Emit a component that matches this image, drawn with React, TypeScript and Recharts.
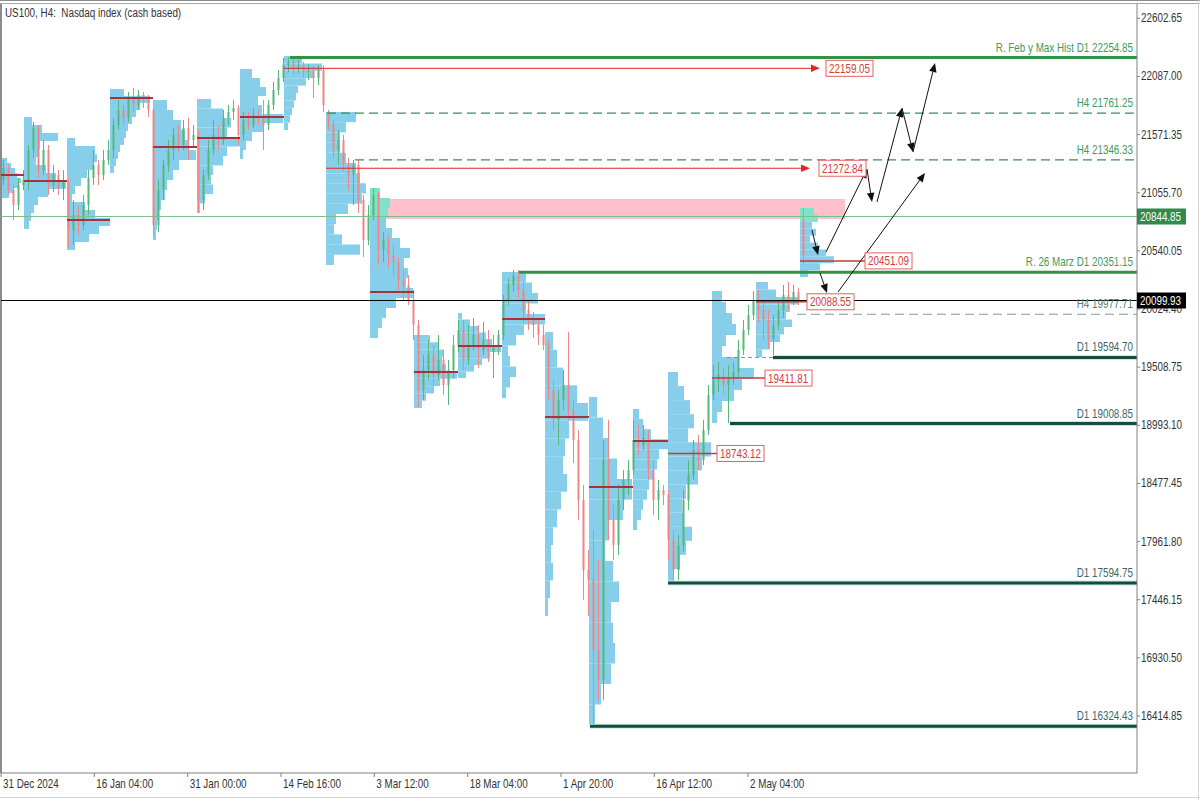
import React from "react";
import { ComposedChart, Bar, XAxis, YAxis, ReferenceArea, ReferenceLine, ReferenceDot } from "recharts";

const FONT = "'Liberation Sans', Arial, sans-serif";
const SQUEEZE = 0.82;

// H4 candles, one slot each: [open, high, low, close]
const candles: number[][] = [
  [21169, 21346, 21124, 21275], [21275, 21302, 21036, 21080], [21080, 21124, 20814, 20947], [20947, 21186, 20903, 21124],
  [21124, 21257, 21080, 21169], [21169, 21479, 21080, 21435], [21435, 21683, 21364, 21630], [21630, 21656, 21186, 21257],
  [21257, 21523, 21213, 21435], [21435, 21479, 21036, 21124], [21124, 21302, 21062, 21213], [21213, 21257, 21036, 21098],
  [21098, 21257, 20991, 21151], [21151, 21186, 20565, 20725], [20725, 20991, 20592, 20858], [20858, 20947, 20681, 20770],
  [20770, 21036, 20725, 20947], [20947, 21257, 20858, 21186], [21186, 21435, 21124, 21302], [21302, 21346, 21124, 21213],
  [21213, 21435, 21169, 21346], [21346, 21523, 21302, 21435], [21435, 21718, 21364, 21656], [21656, 21878, 21612, 21789],
  [21789, 21834, 21656, 21718], [21718, 21949, 21683, 21896], [21896, 21985, 21772, 21834], [21834, 21967, 21789, 21922],
  [21922, 21949, 21807, 21878], [21878, 21922, 21727, 21789], [21789, 21807, 20663, 20770], [20770, 21169, 20707, 21080],
  [21080, 21346, 20991, 21302], [21302, 21523, 21240, 21435], [21435, 21630, 21346, 21568], [21568, 21656, 21417, 21479],
  [21479, 21701, 21435, 21630], [21630, 21718, 21346, 21523], [21523, 21656, 21452, 21568], [21568, 21612, 20876, 20991],
  [20991, 21257, 20903, 21213], [21213, 21523, 21169, 21435], [21435, 21701, 21390, 21568], [21568, 21656, 21435, 21523],
  [21523, 21789, 21479, 21718], [21718, 21834, 21656, 21772], [21772, 21878, 21701, 21807], [21807, 21834, 21479, 21568],
  [21568, 21772, 21523, 21701], [21701, 21772, 21612, 21656], [21656, 21807, 21630, 21745], [21745, 21789, 21656, 21718],
  [21718, 21878, 21435, 21656], [21656, 21878, 21612, 21834], [21834, 22038, 21789, 21967], [21967, 22144, 21922, 22073],
  [22073, 22251, 22038, 22188], [22188, 22259, 22126, 22215], [22215, 22251, 22100, 22162], [22162, 22233, 22118, 22188],
  [22188, 22215, 22073, 22126], [22126, 22197, 22055, 22144], [22144, 22180, 21896, 22073], [22073, 22188, 22011, 22144],
  [22144, 22188, 21772, 21834], [21772, 21789, 21612, 21656], [21656, 21701, 21364, 21435], [21435, 21612, 21302, 21523],
  [21523, 21568, 21240, 21302], [21302, 21364, 21080, 21213], [21213, 21346, 20947, 21302], [21302, 21346, 20876, 20991],
  [20991, 21036, 20486, 20636], [20636, 20947, 20592, 20858], [20858, 21098, 20814, 21036], [21036, 21062, 20415, 20548],
  [20548, 20707, 20441, 20636], [20636, 20681, 20388, 20503], [20503, 20592, 20326, 20441], [20441, 20477, 20193, 20282],
  [20282, 20370, 20104, 20237], [20237, 20326, 20060, 20104], [20104, 20193, 19750, 19883], [19883, 19927, 19155, 19306],
  [19306, 19616, 19217, 19483], [19483, 19750, 19395, 19616], [19616, 19705, 19350, 19439], [19439, 19794, 19395, 19572],
  [19572, 19661, 19262, 19350], [19350, 19572, 19173, 19483], [19483, 19794, 19412, 19705], [19705, 19927, 19643, 19838],
  [19838, 19927, 19483, 19572], [19572, 19883, 19528, 19705], [19705, 19945, 19661, 19794], [19794, 19883, 19501, 19661],
  [19661, 19909, 19616, 19750], [19750, 19838, 19554, 19643], [19643, 19794, 19412, 19705], [19705, 19838, 19616, 19794],
  [19794, 20149, 19750, 20104], [20104, 20299, 20060, 20237], [20237, 20370, 20175, 20317], [20317, 20370, 20122, 20193],
  [20193, 20264, 19909, 20016], [20016, 20104, 19838, 19945], [19945, 19998, 19767, 19883], [19883, 19945, 19705, 19794],
  [19794, 19883, 19661, 19705], [19705, 19750, 19217, 19306], [19306, 19395, 18951, 19040], [19040, 19306, 18818, 19217],
  [19217, 19483, 19129, 19350], [19350, 19820, 19040, 19129], [19129, 19217, 18659, 18863], [18863, 18951, 18153, 18330],
  [18330, 18464, 17444, 17710], [17710, 17887, 17302, 17621], [17621, 18064, 16326, 17000], [17000, 17798, 16557, 16734],
  [16734, 18863, 16557, 18685], [18685, 19040, 17976, 18153], [18153, 18286, 17798, 17931], [17931, 18464, 17843, 18330],
  [18330, 18597, 18242, 18508], [18508, 18685, 18375, 18597], [18597, 19040, 18552, 18863], [18863, 18996, 18730, 18818],
  [18818, 18996, 18774, 18880], [18880, 18951, 18508, 18597], [18597, 18685, 18197, 18330], [18330, 18508, 18153, 18419],
  [18419, 18464, 18286, 18375], [18375, 18419, 17798, 17976], [17976, 18064, 17594, 17710], [17710, 18020, 17621, 17931],
  [17931, 18419, 17869, 18330], [18330, 18685, 18242, 18552], [18552, 18863, 18508, 18774], [18774, 18907, 18597, 18685],
  [18685, 19040, 18641, 18951], [18951, 19350, 18907, 19262], [19262, 19528, 19217, 19395], [19395, 19554, 19288, 19439],
  [19439, 19501, 19262, 19350], [19350, 19528, 19013, 19412], [19412, 19554, 19350, 19466], [19466, 19750, 19412, 19661],
  [19661, 19927, 19616, 19838], [19838, 20060, 19794, 19971], [19971, 20184, 19927, 20104], [20104, 20193, 19909, 20016],
  [20016, 20104, 19750, 19927], [19927, 20016, 19679, 19767], [19767, 19971, 19608, 19883], [19883, 20104, 19838, 20016],
  [20016, 20237, 19945, 20149], [20149, 20264, 20016, 20104], [20104, 20237, 20060, 20175], [20175, 20211, 20060, 20104],
  [20814, 20920, 20415, 20503],
];

const xTicks = [-0.5, 18.16, 36.84, 55.5, 74.16, 92.84, 111.5, 130.16, 148.9];
const xTickLabels = ["31 Dec 2024", "16 Jan 04:00", "31 Jan 00:00", "14 Feb 16:00", "3 Mar 12:00", "18 Mar 04:00", "1 Apr 20:00", "16 Apr 12:00", "2 May 04:00"];
const yTicks = [22602.65, 22087.0, 21571.35, 21055.7, 20540.05, 20024.4, 19508.75, 18993.1, 18477.45, 17961.8, 17446.15, 16930.5, 16414.85];

// weekly volume profiles
const profileStart = [-0.5, 4.1, 12.7, 21.3, 29.9, 38.7, 47.3, 56.1, 64.5, 73.3, 82.1, 90.9, 99.7, 108.3, 117.1, 125.9, 132.9, 141.7, 150.5, 159.3];
const profileTop = [21364, 21727, 21541, 21976, 21878, 21887, 22153, 22268, 21772, 21098, 19794, 19989, 20353, 19820, 19244, 19138, 19466, 20184, 20264, 20920];
const profileBottom = [21009, 20734, 20548, 21231, 20636, 20876, 21355, 21612, 20415, 19767, 19146, 19412, 19235, 17302, 16335, 18064, 17594, 19013, 19599, 20308];
const profileRows = [
  [1.2, 2, 2.8, 3.2, 4, 3.6, 2.4, 1.6],
  [1.6, 3.6, 6.8, 3.2, 2.8, 2.4, 4.4, 6.4, 8.4, 4.8, 2.8, 2, 1.4, 1],
  [1.6, 5.6, 6, 5.2, 4, 2.8, 1.6, 1, 3.6, 5.6, 8.6, 6.4, 4.4, 1.6],
  [2.8, 8, 6, 5.2, 4.4, 3.6, 3.2, 2.8, 2, 1.6, 1.2, 0.8],
  [2.8, 4, 5.6, 6.4, 7.2, 8.6, 5.2, 4, 2.8, 2.4, 1.6, 1.2, 0.8, 0.6],
  [2.8, 5.2, 6.8, 6, 8.6, 6, 5.2, 3.2, 2.8, 3.2, 1.6, 0.6],
  [2.4, 4, 5.2, 3.6, 4.4, 8.6, 4.8, 2.4, 1.2, 0.6],
  [3.6, 7.6, 6, 4.4, 2.8, 2.4, 2, 1.6, 1.2, 0.8],
  [6, 4, 2.8, 2.8, 4, 6, 6.8, 8, 7.2, 4.4, 2, 1.6, 3.2, 6.8, 1.6],
  [2, 4, 3.6, 3.2, 4.4, 6, 8, 6.8, 7.6, 7.2, 8.6, 5.2, 3.2, 2.4, 1.6],
  [3.2, 4.8, 6, 5.6, 6.4, 8.6, 5.2, 4, 2.4, 1.6],
  [0.8, 2.4, 4, 5.6, 6.8, 8.6, 6.4, 4.8, 3.2, 1.6],
  [4.8, 6, 7.2, 4.8, 8.6, 4.4, 2.8, 1.2, 1.6, 2.8, 1.6, 0.8],
  [1.6, 2.4, 3.6, 6.4, 8.6, 4.8, 4, 3.6, 4.4, 3.2, 2.4, 1.6, 1.2, 1.6, 1, 0.6],
  [1.6, 2.8, 4, 5.6, 8.6, 6.8, 4, 3.2, 4.8, 6, 4.4, 4.8, 5.2, 4.4, 2.4, 1.2],
  [1.2, 2, 3.6, 7, 5.2, 4.8, 4, 3.2, 2.8, 2, 1.6, 0.8],
  [2, 3.2, 4.4, 5.2, 4, 8.6, 6.8, 6, 3.6, 2.8, 3.2, 4.8, 3.6, 2.4, 1.2],
  [2, 2.8, 4, 4.8, 2.8, 2, 5.2, 8.4, 6, 4.4, 2, 1],
  [2.4, 4, 8.4, 6.8, 6, 7.2, 5.6, 4.8, 2.8, 1.2],
  [2.8, 3.6, 2.4, 3.2, 2, 3.6, 5.2, 6.8, 4, 1.6],
];
const zoneProfiles = [9, 19];
const pocPrice = [21213, 21160, 20814, 21896, 21461, 21541, 21727, 22159.05, 21272.84, 20175, 19466, 19696, 19936, 19066, 18445, 18854, 18743.12, 19411.81, 20088.55, 20451.09];
const pocEnd = [4.1, 12.7, 21.3, 29.9, 38.7, 47.3, 56.1, 163.3, 161.3, 82.1, 90.9, 99.7, 108.3, 117.1, 125.9, 132.9, 142.7, 152.3, 160.7, 172.3];
const pocBoxAt: (number | null)[] = [null, null, null, null, null, null, null, 164.5, 163.1, null, null, null, null, null, null, null, 142.7, 152.3, 160.7, 172.3];

// supply zone
const zoneLow = 20822;
const zoneHigh = 20999;
const zoneFrom = 75.3;
const zoneTo = 168.3;

// horizontal levels
const levelPrice = [22254.85, 21761.25, 21346.33, 20844.85, 20351.15, 19977.71, 19594.7, 19008.85, 17594.75, 16324.43];
const levelFrom = [57.3, 64.7, 70.3, -0.5, 103.1, 158.7, 153.9, 145.3, 132.9, 117.3];
const levelText = ["R. Feb y Max Hist D1 22254.85", "H4 21761.25", "H4 21346.33", "", "R. 26 Marz D1 20351.15", "H4 19977.71", "D1 19594.70", "D1 19008.85", "D1 17594.75", "D1 16324.43"];
const levelKind = ["major", "h4", "h4", "thin", "major", "grey", "d1", "d1", "d1", "d1"];
const lastPrice = 20099.93;

// projected path arrows
const arrowSegs = [
  [[161.7, 20725], [162.9, 20503]],
  [[164.5, 20530], [172.7, 21266]],
  [[172.7, 21266], [173.7, 20974]],
  [[174.7, 20974], [179.7, 21807]],
  [[179.7, 21807], [181.9, 21417]],
  [[181.9, 21417], [186.3, 22206]],
  [[163.3, 20344], [164.7, 20166]],
  [[166.9, 20175], [184.3, 21231]],
];

const X_MIN = -0.5;
const X_MAX = 226.7;

const candleData = candles.map(([o, h, l, c], i) => ({ t: i, o, h, l, c, range: [l, h] }));

// narrow text, like the terminal's font
const NText = ({ x, y, fill, anchor = "start", children }: any) => (
  <text
    transform={`translate(${x},${y}) scale(${SQUEEZE},1)`}
    textAnchor={anchor}
    fill={fill}
    fontSize={12}
    fontFamily={FONT}
  >
    {children}
  </text>
);

const Candle = (props: any) => {
  const { x, y, width, height, payload } = props;
  if (!payload) return null;
  const { o, h, l, c } = payload;
  const top = Math.min(y, y + height);
  const bot = Math.max(y, y + height);
  const span = h - l || 1;
  const py = (p: number) => top + ((h - p) / span) * (bot - top);
  const cx = x + width / 2;
  const color = c >= o ? "#55b878" : "#ef8585";
  const bt = py(Math.max(o, c));
  const bb = py(Math.min(o, c));
  return (
    <g>
      <line x1={cx} x2={cx} y1={top} y2={bot} stroke={color} strokeWidth={1} />
      <rect x={cx - 1} y={bt} width={2} height={Math.max(1, bb - bt)} fill={color} />
    </g>
  );
};

const arrow = (color: string, size: number, width = 1) => (props: any) => {
  const { x1, y1, x2, y2 } = props;
  if ([x1, y1, x2, y2].some((v) => typeof v !== "number" || isNaN(v))) return null;
  const a = Math.atan2(y2 - y1, x2 - x1);
  const bx = x2 - size * Math.cos(a);
  const by = y2 - size * Math.sin(a);
  const w = size * 0.42;
  const px = -Math.sin(a) * w;
  const py = Math.cos(a) * w;
  return (
    <g>
      <line x1={x1} y1={y1} x2={bx} y2={by} stroke={color} strokeWidth={width} />
      <polygon points={`${x2},${y2} ${bx + px},${by + py} ${bx - px},${by - py}`} fill={color} />
    </g>
  );
};

const priceBox = (text: string) => (props: any) => {
  const { cx, cy } = props;
  return (
    <g>
      <rect x={cx} y={cy - 8} width={47} height={16} fill="#fff" stroke="#e06262" strokeWidth={1} />
      <NText x={cx + 3} y={cy + 4.5} fill="#d33b3b">{text}</NText>
    </g>
  );
};

const axisBox = (text: string, bg: string) => (props: any) => {
  const { cy } = props;
  return (
    <g>
      <rect x={1137} y={cy - 8} width={49} height={16} fill={bg} />
      <NText x={1140} y={cy + 4.5} fill="#fff">{text}</NText>
    </g>
  );
};

const levelLabel = (text: string, color: string) => (props: any) => {
  const { cx, cy } = props;
  return (
    <NText x={cx - 4} y={cy - 6} anchor="end" fill={color}>{text}</NText>
  );
};

const XTick = (props: any) => {
  const { x, y, payload } = props;
  const idx = xTicks.indexOf(payload.value);
  return <NText x={x + 2} y={y + 9} fill="#333">{xTickLabels[idx]}</NText>;
};

const YTick = (props: any) => {
  const { x, y, payload } = props;
  return <NText x={x} y={y + 4} fill="#333">{Number(payload.value).toFixed(2)}</NText>;
};

const levelStyle: Record<string, any> = {
  major: { stroke: "#2f9445", strokeWidth: 3 },
  h4: { stroke: "#3d8c5c", strokeWidth: 1.2, strokeDasharray: "9 5" },
  thin: { stroke: "#7cbf8c", strokeWidth: 1 },
  grey: { stroke: "#7f9c98", strokeWidth: 1.2, strokeDasharray: "9 5" },
  d1: { stroke: "#144c3e", strokeWidth: 3 },
};
const labelColor: Record<string, string> = { major: "#3f9a5e", h4: "#3f9a5e", thin: "#3f9a5e", grey: "#5e7d7a", d1: "#3d6767" };

export default function App() {
  const profileAreas: React.ReactNode[] = [];
  profileRows.forEach((rows, p) => {
    const step = (profileTop[p] - profileBottom[p]) / rows.length;
    rows.forEach((w, r) => {
      const hi = profileTop[p] - r * step;
      const lo = hi - step;
      const teal = zoneProfiles.includes(p) && (hi + lo) / 2 >= zoneLow;
      profileAreas.push(
        <ReferenceArea
          key={`pf-${p}-${r}`}
          x1={profileStart[p]}
          x2={profileStart[p] + w}
          y1={lo}
          y2={hi}
          fill={teal ? "#7fe3c9" : "#87ceeb"}
          fillOpacity={1}
          stroke="none"
        />
      );
    });
  });

  return (
    <div style={{ position: "absolute", left: 0, top: 0, width: 1200, height: 800, background: "#fff", overflow: "hidden" }}>
      <div style={{ position: "absolute", left: 0, top: 0, width: 1200, height: 1, background: "#8c8c8c" }} />
      <div style={{ position: "absolute", left: 0, top: 3, width: 1200, height: 1, background: "#a8a8a8" }} />
      <div style={{ position: "absolute", left: 1198, top: 0, width: 1, height: 800, background: "#d4d4d4" }} />
      <div style={{ position: "absolute", left: 0, top: 797, width: 1200, height: 1, background: "#d4d4d4" }} />
      <ComposedChart
        width={1200}
        height={800}
        data={candleData}
        margin={{ top: 4, right: 0, bottom: 0, left: 1 }}
        style={{ position: "absolute", left: 0, top: 0 }}
      >
        <XAxis
          dataKey="t"
          type="number"
          domain={[X_MIN, X_MAX]}
          allowDataOverflow
          ticks={xTicks}
          tick={<XTick />}
          tickSize={4}
          height={27}
          stroke="#808080"
          interval={0}
        />
        <YAxis
          orientation="right"
          type="number"
          domain={[15909.3, 22729.5]}
          allowDataOverflow
          ticks={yTicks}
          tick={<YTick />}
          tickSize={3}
          tickMargin={1}
          width={63}
          stroke="#808080"
          interval={0}
        />
        <ReferenceArea x1={zoneFrom} x2={zoneTo} y1={zoneLow} y2={zoneHigh} fill="#ffc0cb" fillOpacity={1} stroke="none" />
        {profileAreas}
        <Bar dataKey="range" barSize={3} shape={Candle} isAnimationActive={false} />

        <ReferenceLine x={X_MIN} stroke="#8c8c8c" strokeWidth={2} />
        <ReferenceLine y={lastPrice} stroke="#000" strokeWidth={1} />

        {levelPrice.map((p, i) => (
          <React.Fragment key={`lv-${i}`}>
            {levelKind[i] === "d1" && (
              <ReferenceLine segment={[{ x: levelFrom[i], y: p }, { x: X_MAX, y: p }]} stroke="#c6ece6" strokeWidth={5} />
            )}
            <ReferenceLine segment={[{ x: levelFrom[i], y: p }, { x: X_MAX, y: p }]} {...levelStyle[levelKind[i]]} />
            {levelText[i] && (
              <ReferenceDot x={X_MAX} y={p} r={0} shape={levelLabel(levelText[i], labelColor[levelKind[i]])} />
            )}
          </React.Fragment>
        ))}
        <ReferenceLine segment={[{ x: 144.7, y: 19594.7 }, { x: 153.9, y: 19594.7 }]} stroke="#7d8fb0" strokeWidth={1} strokeDasharray="4 3" />

        {pocPrice.map((p, i) =>
          pocBoxAt[i] === null ? (
            <ReferenceLine key={`poc-${i}`} segment={[{ x: profileStart[i], y: p }, { x: pocEnd[i], y: p }]} stroke="#a8323a" strokeWidth={2} />
          ) : i === 7 || i === 8 ? (
            <ReferenceLine key={`poc-${i}`} segment={[{ x: profileStart[i], y: p }, { x: pocEnd[i], y: p }]} shape={arrow("#e02525", 9)} />
          ) : (
            <ReferenceLine key={`poc-${i}`} segment={[{ x: profileStart[i], y: p }, { x: pocEnd[i], y: p }]} stroke="#c83a3a" strokeWidth={1.5} />
          )
        )}
        {pocPrice.map((p, i) =>
          pocBoxAt[i] === null ? null : (
            <ReferenceDot key={`box-${i}`} x={pocBoxAt[i] as number} y={p} r={0} shape={priceBox(p.toFixed(2))} />
          )
        )}

        {arrowSegs.map((s, i) => (
          <ReferenceLine key={`ar-${i}`} segment={[{ x: s[0][0], y: s[0][1] }, { x: s[1][0], y: s[1][1] }]} shape={arrow("#111", 9)} />
        ))}

        <ReferenceDot x={X_MAX} y={20844.85} r={0} shape={axisBox("20844.85", "#2e8b4a")} zIndex={3000} />
        <ReferenceDot x={X_MAX} y={lastPrice} r={0} shape={axisBox(lastPrice.toFixed(2), "#000")} zIndex={3000} />
      </ComposedChart>
      <div
        style={{
          position: "absolute",
          left: 5,
          top: 6,
          fontSize: 12,
          fontFamily: FONT,
          color: "#333",
          whiteSpace: "pre",
          transform: `scaleX(${SQUEEZE})`,
          transformOrigin: "left top",
        }}
      >
        {"US100, H4:  Nasdaq index (cash based)"}
      </div>
    </div>
  );
}
